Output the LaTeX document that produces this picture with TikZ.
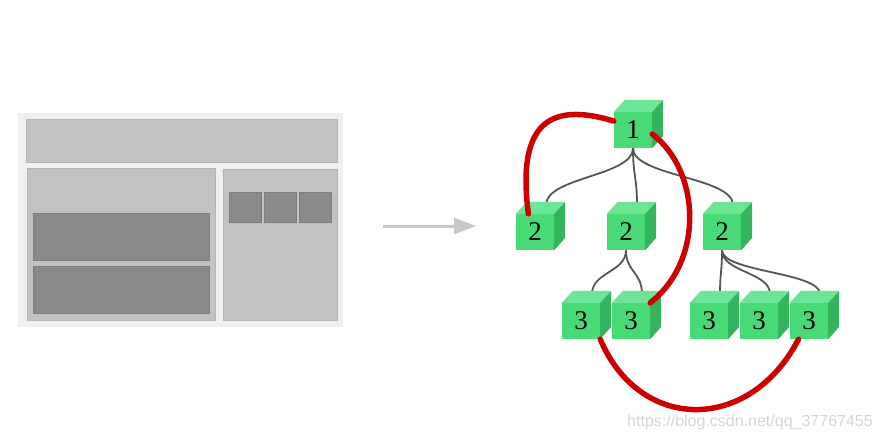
\documentclass[tikz,border=0pt]{standalone}
\usepackage{fontspec}
\setmainfont{Liberation Serif}
\newfontfamily\wmfont{Liberation Sans}
\usetikzlibrary{arrows.meta,backgrounds}

\definecolor{pagebg}{RGB}{239,239,239}
\definecolor{pagebox}{RGB}{194,194,194}
\definecolor{pagedark}{RGB}{138,138,138}
\definecolor{arrowgray}{RGB}{200,200,200}
\definecolor{cubefront}{RGB}{72,218,118}
\definecolor{cubetop}{RGB}{108,229,148}
\definecolor{cuberight}{RGB}{52,180,92}
\definecolor{linkgray}{RGB}{85,85,85}
\definecolor{redlink}{RGB}{204,0,0}
\definecolor{wmgray}{RGB}{214,214,214}

\tikzset{
  lightbox/.style={fill=pagebox,draw={rgb,255:red,180;green,180;blue,180},line width=0.6},
  darkbox/.style={fill=pagedark,draw={rgb,255:red,125;green,125;blue,125},line width=0.6},
  cube/.style={rectangle,minimum width=38,minimum height=36,inner sep=0,fill=cubefront,font=\fontsize{27}{27}\selectfont},
  treelink/.style={draw=linkgray,line width=1.8},
  redpath/.style={draw=redlink,line width=5.5,line cap=round},
}

\begin{document}
\begin{tikzpicture}[x=1pt,y=1pt,yscale=-1,xscale=1]
\useasboundingbox (0,0) rectangle (882,440);

%Shape: page outline
\fill [pagebg] (18,113) rectangle (343,327);
\draw [lightbox] (26,119) rectangle (337,162);
\draw [lightbox] (27,168) rectangle (215,320);
\draw [lightbox] (223,169) rectangle (337,320);
\draw [darkbox] (33,213) rectangle (209,260);
\draw [darkbox] (33,266) rectangle (209,313);
\draw [darkbox] (229,192) rectangle (261,222);
\draw [darkbox] (264,192) rectangle (296,222);
\draw [darkbox] (299,192) rectangle (331,222);

%Shape: Arrow
\coordinate (arrowstart) at (383,226);
\coordinate (arrowend) at (476,226);
\draw [arrowgray,line width=3,-{Triangle[length=22,width=16]}] (arrowstart) -- (arrowend);

%Shape: Cubes
\foreach \n/\x/\y/\t in {c1/633/130/1, c2a/535/232/2, c2b/626/232/2, c2c/722/232/2,
    c3a/581/321/3, c3b/631/321/3, c3c/709/321/3, c3d/759/321/3, c3e/809/321/3} {
  \node [cube] (\n) at (\x,\y) {\t};
  \fill [cubetop] (\n.north west) -- ++(11,-12) -- ++(38,0) -- (\n.north east) -- cycle;
  \fill [cuberight] (\n.north east) -- ++(11,-12) -- ++(0,36) -- (\n.south east) -- cycle;
  \coordinate (\n-t) at (\x+11,\y-27);
}

%Shape: Tree links
\begin{scope}[on background layer]
\draw [treelink] (c1.south) .. controls +(0,28) and +(0,-28) .. (c2a-t);
\draw [treelink] (c1.south) .. controls +(0,28) and +(0,-28) .. (c2b-t);
\draw [treelink] (c1.south) .. controls +(0,28) and +(0,-28) .. (c2c-t);
\draw [treelink] (c2b.south) .. controls +(0,22) and +(0,-22) .. (c3a-t);
\draw [treelink] (c2b.south) .. controls +(0,22) and +(0,-22) .. (c3b-t);
\draw [treelink] (c2c.south) .. controls +(0,22) and +(0,-22) .. (c3c-t);
\draw [treelink] (c2c.south) .. controls +(0,22) and +(0,-22) .. (c3d-t);
\draw [treelink] (c2c.south) .. controls +(0,22) and +(0,-22) .. (c3e-t);
\end{scope}

%Shape: Red paths
\draw [redpath] (c1.155) .. controls (560,105) and (515,112) .. (c2a.110);
\draw [redpath] (c1.-12) .. controls (700,170) and (705,260) .. (c3b.north east);
\draw [redpath] (c3a.south east) .. controls (640,433) and (750,433) .. (c3e.-120);

% Text Node
\node (watermark) at (750,422) [font=\wmfont\fontsize{16}{16}\selectfont,text=wmgray] {https://blog.csdn.net/qq\_37767455};

\end{tikzpicture}
\end{document}
